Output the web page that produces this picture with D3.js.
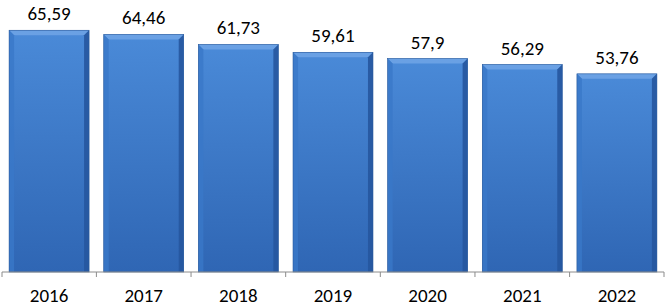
<!DOCTYPE html>
<html><head><meta charset="utf-8">
<script src="https://cdn.jsdelivr.net/npm/d3@7"></script>
<style>body{margin:0;background:#fff}svg{display:block}</style>
</head><body>
<script>
const categories = ["2016","2017","2018","2019","2020","2021","2022"];
const values = [65.59, 64.46, 61.73, 59.61, 57.9, 56.29, 53.76];
const valueLabels = ["65,59","64,46","61,73","59,61","57,9","56,29","53,76"];

const W = 666, H = 306;
const m = {left: 2, right: 2, top: 14, bottom: 34};
const svg = d3.select("body").append("svg").attr("width", W).attr("height", H);
const defs = svg.append("defs");
const g = defs.append("linearGradient").attr("id","bg").attr("x1",0).attr("y1",0).attr("x2",0).attr("y2",1);
g.append("stop").attr("offset","0%").attr("stop-color","#4a8ad8");
g.append("stop").attr("offset","100%").attr("stop-color","#2f66b4");

const x = d3.scaleBand().domain(categories).range([m.left, W - m.right]).paddingInner(0.155).paddingOuter(0.075);
const y = d3.scaleLinear().domain([0, 70]).range([H - m.bottom, m.top]);

const bars = svg.append("g").selectAll("g").data(values).join("g");
const bev = 5;
bars.each(function(v, i){
  const sel = d3.select(this);
  const x0 = x(categories[i]), w = x.bandwidth(), y0 = y(v), y1 = y(0);
  sel.append("rect").attr("x", x0).attr("y", y0).attr("width", w).attr("height", y1 - y0).attr("fill", "url(#bg)");
  sel.append("path").attr("d", `M${x0},${y0}L${x0+w},${y0}L${x0+w-bev},${y0+bev}L${x0+bev},${y0+bev}Z`).attr("fill","#6ea3e6").attr("opacity",0.9);
  sel.append("path").attr("d", `M${x0},${y0}L${x0+bev},${y0+bev}L${x0+bev},${y1}L${x0},${y1}Z`).attr("fill","#3a78c8").attr("opacity",0.8);
  sel.append("path").attr("d", `M${x0+w},${y0}L${x0+w-bev},${y0+bev}L${x0+w-bev},${y1}L${x0+w},${y1}Z`).attr("fill","#26579e").attr("opacity",0.9);
  sel.append("rect").attr("x", x0).attr("y", y0).attr("width", w).attr("height", y1 - y0).attr("fill","none").attr("stroke","#2a5a9c").attr("stroke-width",0.6);
});

svg.append("g").selectAll("text").data(values).join("text")
  .attr("x", (d,i) => x(categories[i]) + x.bandwidth()/2)
  .attr("y", d => y(d) - 10)
  .attr("text-anchor","middle")
  .attr("font-family","Carlito, 'Open Sans', 'Liberation Sans', sans-serif")
  .attr("font-size", 19).attr("fill","#000")
  .text((d,i) => valueLabels[i]);

const ax = svg.append("g").attr("transform", `translate(0,${y(0)})`);
ax.append("line").attr("x1", m.left).attr("x2", W - m.right).attr("stroke","#8c8c8c").attr("stroke-width",1);
const step = x.step();
const bounds = categories.map((c,i) => x(c) - step*x.paddingInner()/2).concat([W - m.right]);
bounds[0] = m.left;
ax.selectAll("line.t").data(bounds).join("line").attr("class","t")
  .attr("x1", d => d).attr("x2", d => d).attr("y1", 0).attr("y2", 5).attr("stroke","#8c8c8c");
ax.selectAll("text").data(categories).join("text")
  .attr("x", c => x(c) + x.bandwidth()/2).attr("y", 30)
  .attr("text-anchor","middle")
  .attr("font-family","Carlito, 'Open Sans', 'Liberation Sans', sans-serif")
  .attr("font-size", 19).attr("fill","#000").text(c => c);
</script>
</body></html>
